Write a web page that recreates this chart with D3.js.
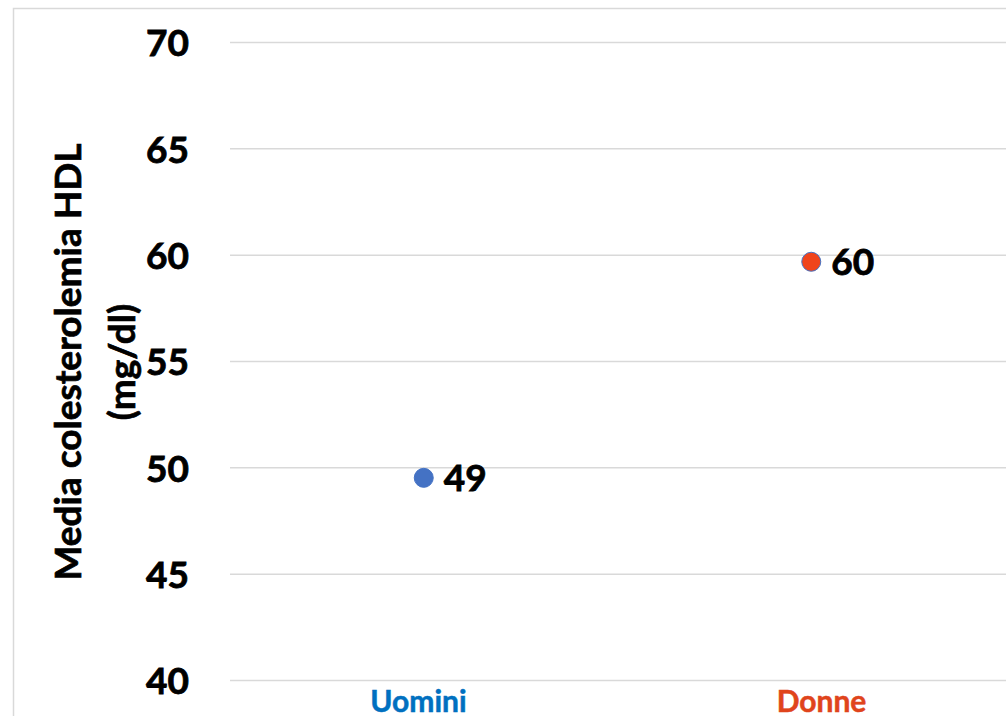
<!DOCTYPE html>
<html>
<head>
<meta charset="utf-8">
<script src="https://cdn.jsdelivr.net/npm/d3@7"></script>
<style>
  body { margin: 0; background: #fff; }
  svg text { font-family: Lato, "Open Sans", sans-serif; font-weight: bold; }
</style>
</head>
<body>
<div id="chart"></div>
<script>
// data
const categories = ["Uomini", "Donne"];
const values = [49.53, 59.69];
const labels = ["49", "60"];
const yTicks = [40, 45, 50, 55, 60, 65, 70];
const pointColors = ["#4472C4", "#F0441C"];
const labelColors = ["#0070C0", "#E0441C"];

let width = 1006, height = 716;
let margin = {top: 42.5, right: 0, bottom: 35.5, left: 230};

let svg = d3.select("#chart").append("svg")
    .attr("width", width)
    .attr("height", height);

// chart border
svg.append("rect")
    .attr("x", 13.5).attr("y", 8.5)
    .attr("width", 1010).attr("height", 730)
    .attr("fill", "none")
    .attr("stroke", "#d9d9d9")
    .attr("stroke-width", 1.5);

let x = d3.scaleBand()
    .domain(categories)
    .range([margin.left, 1005]);

// category labels sit a bit wider apart than the points
let xLab = d3.scaleBand()
    .domain(categories)
    .range([217, 1023]);

let y = d3.scaleLinear()
    .domain([40, 70])
    .range([height - margin.bottom, margin.top]);

// gridlines
svg.append("g").selectAll("line")
    .data(yTicks)
    .enter().append("line")
    .attr("x1", margin.left)
    .attr("x2", width)
    .attr("y1", d => y(d))
    .attr("y2", d => y(d))
    .attr("stroke", "#d9d9d9")
    .attr("stroke-width", 1.5);

// y axis
let yAxis = d3.axisLeft(y).tickValues(yTicks).tickSize(0).tickPadding(0);
let gy = svg.append("g")
    .attr("transform", "translate(189,0)")
    .call(yAxis);
gy.select(".domain").remove();
gy.selectAll("text")
    .attr("font-size", 37)
    .attr("fill", "#000")
    .attr("stroke", "#000")
    .attr("stroke-width", 0.8)
    .attr("dy", "0.36em")
    .style("font-family", "Lato, sans-serif");

// x axis labels
let xAxis = d3.axisBottom(xLab).tickSize(0).tickPadding(0);
let gx = svg.append("g")
    .attr("transform", "translate(0," + (height - margin.bottom) + ")")
    .call(xAxis);
gx.select(".domain").remove();
gx.selectAll("text")
    .attr("font-size", 30)
    .attr("dy", "0")
    .attr("y", 31)
    .attr("fill", (d, i) => labelColors[i])
    .attr("stroke", (d, i) => labelColors[i])
    .attr("stroke-width", 0.5)
    .style("font-family", "Lato, sans-serif");

// points
let cx = d => x(d) + x.bandwidth() / 2;
svg.append("g").selectAll("circle")
    .data(categories)
    .enter().append("circle")
    .attr("cx", d => cx(d))
    .attr("cy", (d, i) => y(values[i]))
    .attr("r", 9.5)
    .attr("fill", (d, i) => pointColors[i])
    .attr("stroke", "#4472C4")
    .attr("stroke-width", 1);

// data labels
svg.append("g").selectAll("text")
    .data(categories)
    .enter().append("text")
    .attr("x", d => cx(d) + 20)
    .attr("y", (d, i) => y(values[i]))
    .attr("dy", "0.36em")
    .attr("font-size", 37)
    .attr("fill", "#000")
    .attr("stroke", "#000")
    .attr("stroke-width", 0.8)
    .text((d, i) => labels[i]);

// y axis title
let title = svg.append("text")
    .attr("transform", "translate(0,362) rotate(-90)")
    .attr("text-anchor", "middle")
    .attr("font-size", 37)
    .attr("fill", "#000")
    .attr("stroke", "#000")
    .attr("stroke-width", 0.7);
title.append("tspan").attr("x", 0).attr("y", 81).text("Media colesterolemia HDL");
title.append("tspan").attr("x", 0).attr("y", 135).text("(mg/dl)");
</script>
</body>
</html>
